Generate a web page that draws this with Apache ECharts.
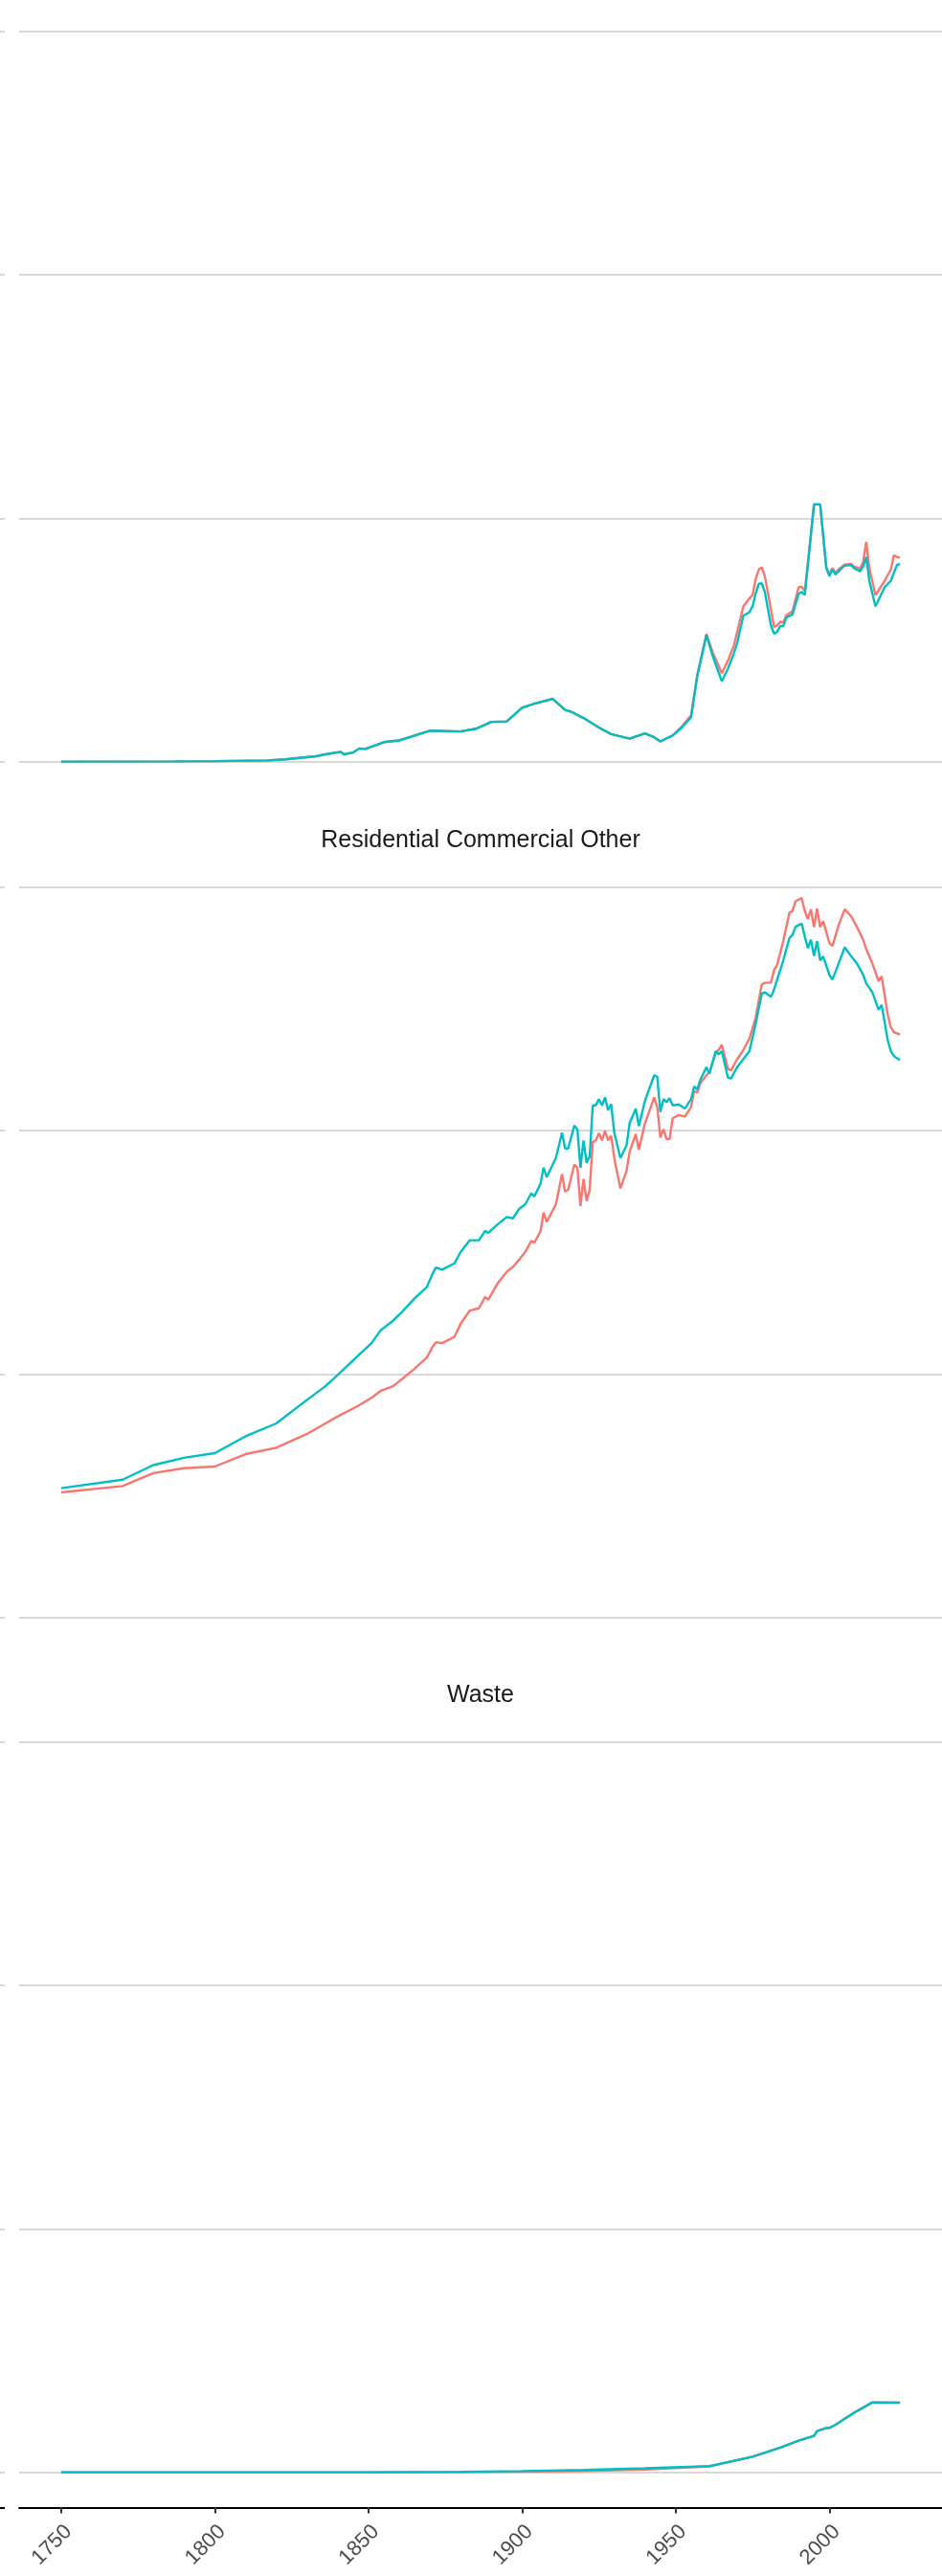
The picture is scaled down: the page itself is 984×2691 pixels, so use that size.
<!DOCTYPE html>
<html>
<head>
<meta charset="utf-8">
<script src="https://cdn.jsdelivr.net/npm/echarts@6/dist/echarts.min.js"></script>
<style>
html,body{margin:0;padding:0;background:#fff;}
#chart{width:984px;height:2691px;}
</style>
</head>
<body>
<div id="chart"></div>
<script>
// ---------- data ----------
const panelTitles = ['', 'Residential Commercial Other', 'Waste'];
const xTickYears = [1750, 1800, 1850, 1900, 1950, 2000];
const seriesNames = ['Series 1', 'Series 2'];

// Panel 1 (title cut off above)
const p1Years = [1750,1787,1800,1817,1823,1833,1836,1841,1842,1845,1847,1849,1855,1860,1870,1880,1885,1890,1895,1900,1904,1910,1914,1916,1920,1925,1929,1935,1940,1943,1945,1949,1952,1955,1957,1960,1962,1965,1967,1969,1970,1972,1974,1975,1976,1977,1978,1979,1981,1982,1983,1984,1985,1986,1988,1990,1991,1992,1993,1995,1997,1998,1999,2000,2001,2002,2003,2005,2007,2008,2010,2011,2012,2013,2015,2018,2020,2021,2022,2023];
const p1Red   = [0,0.001,0.002,0.005,0.009,0.022,0.03,0.04,0.03,0.037,0.054,0.052,0.08,0.087,0.127,0.124,0.135,0.163,0.165,0.221,0.238,0.258,0.212,0.205,0.179,0.14,0.113,0.094,0.116,0.1,0.083,0.107,0.145,0.19,0.355,0.525,0.45,0.363,0.415,0.48,0.533,0.638,0.671,0.684,0.749,0.789,0.798,0.762,0.625,0.553,0.559,0.575,0.572,0.601,0.618,0.717,0.719,0.7,0.815,1.057,1.057,0.93,0.8,0.77,0.795,0.775,0.79,0.81,0.812,0.802,0.793,0.821,0.903,0.795,0.684,0.743,0.789,0.848,0.841,0.838];
const p1Teal  = [0,0.001,0.002,0.005,0.009,0.022,0.03,0.04,0.03,0.037,0.054,0.052,0.08,0.087,0.127,0.124,0.135,0.163,0.165,0.221,0.238,0.258,0.212,0.205,0.179,0.14,0.113,0.094,0.116,0.1,0.083,0.107,0.14,0.182,0.35,0.52,0.435,0.33,0.382,0.448,0.487,0.599,0.614,0.638,0.69,0.73,0.733,0.697,0.559,0.526,0.533,0.557,0.557,0.592,0.605,0.69,0.697,0.684,0.808,1.057,1.057,0.926,0.795,0.762,0.789,0.769,0.782,0.806,0.808,0.795,0.782,0.802,0.841,0.743,0.638,0.717,0.743,0.776,0.808,0.812];

// Panel 2: Residential Commercial Other
const p2Years = [1750,1770,1780,1790,1800,1810,1820,1830,1836,1840,1846,1851,1854,1858,1861,1865,1869,1871,1872,1874,1878,1880,1883,1886,1888,1889,1892,1895,1897,1899,1901,1903,1904,1906,1907,1908,1911,1913,1914,1915,1917,1918,1919,1920,1921,1922,1923,1924,1925,1926,1927,1928,1929,1930,1932,1934,1935,1937,1938,1940,1943,1944,1945,1946,1947,1948,1949,1951,1953,1955,1956,1957,1958,1960,1961,1963,1964,1965,1967,1968,1970,1972,1974,1976,1978,1979,1981,1982,1983,1985,1987,1988,1989,1991,1992,1993,1994,1995,1996,1997,1998,2000,2001,2003,2005,2007,2009,2011,2012,2014,2016,2017,2019,2020,2021,2023];
const p2Red   = [0.514,0.54,0.593,0.613,0.62,0.671,0.697,0.754,0.797,0.826,0.865,0.902,0.931,0.95,0.98,1.022,1.068,1.114,1.131,1.127,1.153,1.206,1.261,1.271,1.317,1.305,1.372,1.42,1.44,1.47,1.501,1.547,1.54,1.586,1.664,1.625,1.697,1.822,1.75,1.757,1.861,1.848,1.691,1.802,1.711,1.757,1.953,1.96,1.99,1.96,1.999,1.96,1.979,1.888,1.763,1.835,1.914,1.986,1.922,2.031,2.137,2.097,1.972,2.006,1.966,1.966,2.051,2.064,2.058,2.097,2.163,2.156,2.195,2.228,2.241,2.32,2.333,2.353,2.254,2.248,2.294,2.332,2.379,2.464,2.601,2.608,2.608,2.66,2.681,2.78,2.896,2.903,2.943,2.956,2.903,2.87,2.91,2.837,2.913,2.837,2.861,2.772,2.759,2.844,2.91,2.883,2.837,2.785,2.746,2.687,2.615,2.635,2.477,2.425,2.405,2.396];
const p2Teal  = [0.531,0.566,0.626,0.656,0.675,0.744,0.797,0.894,0.95,0.996,1.068,1.127,1.18,1.219,1.256,1.311,1.357,1.416,1.438,1.429,1.455,1.501,1.55,1.55,1.589,1.58,1.615,1.645,1.64,1.678,1.697,1.743,1.73,1.782,1.848,1.809,1.888,1.992,1.927,1.927,2.021,2.006,1.848,1.96,1.868,1.894,2.104,2.104,2.13,2.104,2.137,2.084,2.11,1.992,1.888,1.94,2.031,2.09,2.019,2.123,2.228,2.222,2.077,2.13,2.117,2.134,2.104,2.108,2.091,2.13,2.182,2.169,2.209,2.261,2.235,2.327,2.314,2.327,2.218,2.215,2.261,2.294,2.327,2.438,2.563,2.569,2.55,2.58,2.621,2.7,2.792,2.805,2.838,2.851,2.798,2.75,2.785,2.719,2.779,2.7,2.716,2.641,2.621,2.687,2.754,2.719,2.687,2.641,2.605,2.569,2.497,2.517,2.372,2.327,2.307,2.29];

// Panel 3: Waste
const p3Years = [1750,1850,1880,1900,1920,1940,1961,1969,1975,1984,1990,1995,1996,1999,2000,2002,2008,2014,2023];
const p3Red   = [0,0,0,0.002,0.005,0.011,0.024,0.047,0.064,0.101,0.13,0.149,0.169,0.182,0.182,0.195,0.244,0.287,0.286];
const p3Teal  = [0,0,0.002,0.005,0.009,0.016,0.025,0.047,0.064,0.101,0.13,0.149,0.169,0.182,0.182,0.195,0.244,0.287,0.286];

const panels = [
  {years: p1Years, red: p1Red, teal: p1Teal},
  {years: p2Years, red: p2Red, teal: p2Teal},
  {years: p3Years, red: p3Red, teal: p3Teal}
];

// ---------- layout ----------
const FONT = "'Liberation Sans', Arial, sans-serif";
const gridTops = [33, 927, 1820];
const gridH = 762.6;
const titleTops = [0, 866, 1759];
const RED = '#F8766D', TEAL = '#00BFC4', GRIDC = '#d9d9d9';
const X_MIN = 1736.35, X_MAX = 2036.65;

const grids = [], xAxes = [], yAxes = [], series = [], titles = [];
panels.forEach((p, i) => {
  grids.push({left: 20, right: 0, top: gridTops[i], height: gridH, containLabel: false});
  const isBottom = i === panels.length - 1;
  xAxes.push({
    gridIndex: i, type: 'value', min: X_MIN, max: X_MAX,
    show: isBottom,
    offset: isBottom ? 37 : 0,
    axisLine: {show: isBottom, onZero: false, lineStyle: {color: '#000', width: 2}},
    axisTick: {show: isBottom, customValues: xTickYears, length: 6, lineStyle: {color: '#333', width: 2}},
    axisLabel: {show: isBottom, customValues: xTickYears, rotate: 45, margin: 14,
      align: 'right', verticalAlign: 'top',
      formatter: v => String(Math.round(v)),
      color: '#4d4d4d', fontSize: 22, fontFamily: FONT},
    splitLine: {show: false}
  });
  yAxes.push({
    gridIndex: i, type: 'value', min: 0, max: 3, interval: 1, offset: 15,
    axisLine: {show: false},
    axisTick: {show: true, length: 5, lineStyle: {color: GRIDC, width: 2}},
    axisLabel: {show: false},
    splitLine: {show: true, lineStyle: {color: GRIDC, width: 2}}
  });
  if (panelTitles[i]) {
    titles.push({text: panelTitles[i], left: 502, top: titleTops[i], textAlign: 'center', padding: 0,
      textStyle: {fontSize: 25, fontWeight: 'normal', color: '#1a1a1a', fontFamily: FONT}});
  }
  series.push({name: seriesNames[0], type: 'line', xAxisIndex: i, yAxisIndex: i,
    data: p.years.map((y, k) => [y, p.red[k]]), showSymbol: false, clip: false,
    lineStyle: {color: RED, width: 2.4}, itemStyle: {color: RED}});
  series.push({name: seriesNames[1], type: 'line', xAxisIndex: i, yAxisIndex: i,
    data: p.years.map((y, k) => [y, p.teal[k]]), showSymbol: false, clip: false,
    lineStyle: {color: TEAL, width: 2.4}, itemStyle: {color: TEAL}});
});

const chart = echarts.init(document.getElementById('chart'), null, {renderer: 'canvas'});
chart.setOption({
  animation: false,
  backgroundColor: '#fff',
  title: titles,
  grid: grids,
  xAxis: xAxes,
  yAxis: yAxes,
  series: series,
  graphic: [{type: 'line', shape: {x1: 0, y1: 2620, x2: 5, y2: 2620}, style: {stroke: '#000', lineWidth: 2}}]
});
</script>
</body>
</html>
